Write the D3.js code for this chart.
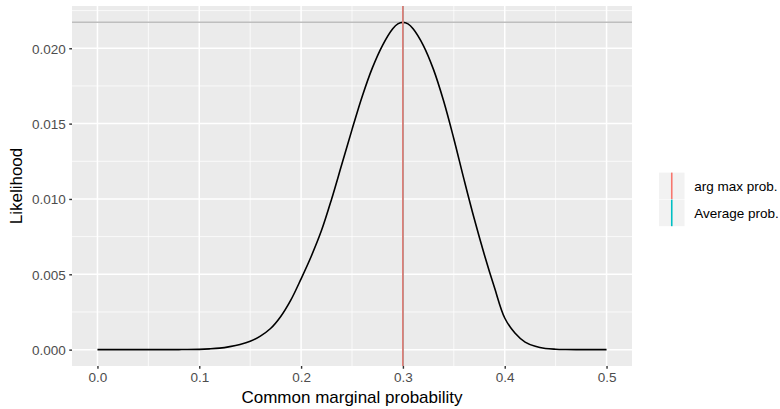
<!DOCTYPE html>
<html><head><meta charset="utf-8">
<script src="https://cdn.jsdelivr.net/npm/d3@7"></script>
<style>body{margin:0;background:#fff} svg{display:block}</style>
</head><body><svg id="c" width="780" height="409"></svg>
<script>
// ---- data ----
const probs = [0.00, 0.05, 0.08, 0.10, 0.11, 0.12, 0.13, 0.14, 0.15, 0.16, 0.17, 0.18, 0.19,
  0.20, 0.21, 0.22, 0.23, 0.24, 0.25, 0.26, 0.27, 0.28, 0.29, 0.295, 0.30, 0.305, 0.31,
  0.32, 0.33, 0.34, 0.35, 0.36, 0.37, 0.38, 0.39, 0.40, 0.41, 0.42, 0.43, 0.44, 0.45,
  0.46, 0.47, 0.50];
const likelihood = [0, 0, 0.000004, 0.00002, 0.00005, 0.0001, 0.0002, 0.00034, 0.00055,
  0.0009, 0.0014, 0.0022, 0.0033, 0.0047, 0.0062, 0.0079, 0.0100, 0.0123, 0.0146, 0.0168,
  0.0187, 0.0202, 0.0213, 0.02162, 0.02172, 0.02162, 0.0213, 0.0202, 0.0186, 0.0165, 0.0140,
  0.0113, 0.0087, 0.0063, 0.0041, 0.0021, 0.0011, 0.0005, 0.00022, 0.00008, 0.00003,
  0.00001, 0, 0];
const maxLikelihood = 0.02172;
const refLabels = ["arg max prob.", "Average prob."];
const refValues = [0.30, 0.30];
const xTicks = [0.0, 0.1, 0.2, 0.3, 0.4, 0.5];
const yTicks = [0.000, 0.005, 0.010, 0.015, 0.020];
const xMinor = [0.05, 0.15, 0.25, 0.35, 0.45];
const yMinor = [0.0025, 0.0075, 0.0125, 0.0175, 0.0225];
const xTitle = "Common marginal probability";
const yTitle = "Likelihood";

// ---- styles ----
const refColors = ["#F8766D", "#00BFC4"];
const font = "'Liberation Sans', Arial, Helvetica, sans-serif";
const P = {left: 72, right: 632, top: 6, bottom: 366};

const svg = d3.select("#c");
const xMin = 0, xMax = 0.5, xPad = (xMax - xMin) * 0.05;
const x = d3.scaleLinear().domain([xMin - xPad, xMax + xPad]).range([P.left, P.right]);
const yPad = maxLikelihood * 0.05;
const y = d3.scaleLinear().domain([0 - yPad, maxLikelihood + yPad]).range([P.bottom, P.top]);

// panel
svg.append("rect").attr("x", P.left).attr("y", P.top)
  .attr("width", P.right - P.left).attr("height", P.bottom - P.top).attr("fill", "#EBEBEB");

const g = svg.append("g");
g.selectAll(".xm").data(xMinor).enter().append("line")
  .attr("x1", d => x(d)).attr("x2", d => x(d)).attr("y1", P.top).attr("y2", P.bottom)
  .attr("stroke", "#fff").attr("stroke-width", 0.75);
g.selectAll(".ym").data(yMinor).enter().append("line")
  .attr("y1", d => y(d)).attr("y2", d => y(d)).attr("x1", P.left).attr("x2", P.right)
  .attr("stroke", "#fff").attr("stroke-width", 0.75);
g.selectAll(".xM").data(xTicks).enter().append("line")
  .attr("x1", d => x(d)).attr("x2", d => x(d)).attr("y1", P.top).attr("y2", P.bottom)
  .attr("stroke", "#fff").attr("stroke-width", 1.5);
g.selectAll(".yM").data(yTicks).enter().append("line")
  .attr("y1", d => y(d)).attr("y2", d => y(d)).attr("x1", P.left).attr("x2", P.right)
  .attr("stroke", "#fff").attr("stroke-width", 1.5);

// max likelihood horizontal line
svg.append("line").attr("x1", P.left).attr("x2", P.right)
  .attr("y1", y(maxLikelihood)).attr("y2", y(maxLikelihood))
  .attr("stroke", "#BEBEBE").attr("stroke-width", 1.5);

// curve
const line = d3.line().x((d, i) => x(probs[i])).y(d => y(d)).curve(d3.curveCatmullRom.alpha(0.5));
svg.append("path").datum(likelihood).attr("d", line)
  .attr("fill", "none").attr("stroke", "#000").attr("stroke-width", 1.6);

// vertical reference lines (average drawn first, arg max on top)
[1, 0].forEach(i => {
  svg.append("line").attr("x1", x(refValues[i])).attr("x2", x(refValues[i]))
    .attr("y1", P.top).attr("y2", P.bottom)
    .attr("stroke", refColors[i]).attr("stroke-width", 1.6);
});

// axes
const xAxis = d3.axisBottom(x).tickValues(xTicks).tickFormat(d3.format(".1f"))
  .tickSize(2.75).tickPadding(3.5);
const gx = svg.append("g").attr("transform", `translate(0,${P.bottom})`).call(xAxis);
const yAxis = d3.axisLeft(y).tickValues(yTicks).tickFormat(d3.format(".3f"))
  .tickSize(2.75).tickPadding(3.5);
const gy = svg.append("g").attr("transform", `translate(${P.left},0)`).call(yAxis);
[gx, gy].forEach(a => {
  a.select(".domain").remove();
  a.selectAll(".tick line").attr("stroke", "#333").attr("stroke-width", 1.4);
  a.selectAll(".tick text").attr("fill", "#4D4D4D").style("font-family", font).style("font-size", "13.5px");
});
gy.selectAll(".tick text").attr("dy", "0.35em");

// axis titles
svg.append("text").attr("x", (P.left + P.right) / 2).attr("y", 403)
  .attr("text-anchor", "middle").style("font-family", font).style("font-size", "17px")
  .attr("fill", "#000").text(xTitle);
svg.append("text").attr("transform", `translate(22,${(P.top + P.bottom) / 2}) rotate(-90)`)
  .attr("text-anchor", "middle").style("font-family", font).style("font-size", "17px")
  .attr("fill", "#000").text(yTitle);

// legend
const keyX = 659, keyW = 25.5, keyH = 26.6, keyY0 = 172.6;
refLabels.forEach((lab, i) => {
  const ky = keyY0 + i * (keyH + 0.4);
  svg.append("rect").attr("x", keyX).attr("y", ky).attr("width", keyW).attr("height", keyH)
    .attr("fill", "#F2F2F2");
  svg.append("line").attr("x1", keyX + keyW / 2).attr("x2", keyX + keyW / 2)
    .attr("y1", ky).attr("y2", ky + keyH)
    .attr("stroke", refColors[i]).attr("stroke-width", 1.6);
  svg.append("text").attr("x", 694.3).attr("y", ky + keyH / 2).attr("dy", "0.35em")
    .style("font-family", font).style("font-size", "13.5px").attr("fill", "#000").text(lab);
});
</script></body></html>
